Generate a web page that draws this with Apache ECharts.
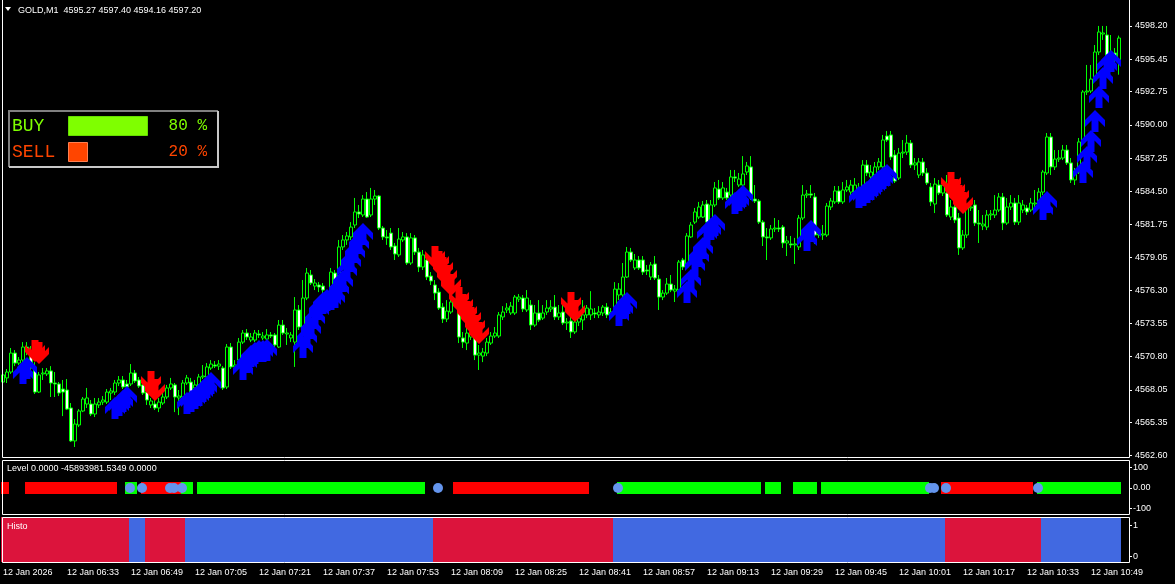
<!DOCTYPE html>
<html><head><meta charset="utf-8">
<script src="https://cdn.jsdelivr.net/npm/echarts@6/dist/echarts.min.js"></script>
<style>html,body{margin:0;padding:0;background:#000;}#c{width:1175px;height:584px;}</style>
</head><body><div id="c"></div>
<script>
const symbolName = 'GOLD,M1';
const startTime = '06:17';
const tickLabels = ['12 Jan 2026','12 Jan 06:33','12 Jan 06:49','12 Jan 07:05','12 Jan 07:21','12 Jan 07:37','12 Jan 07:53','12 Jan 08:09','12 Jan 08:25','12 Jan 08:41','12 Jan 08:57','12 Jan 09:13','12 Jan 09:29','12 Jan 09:45','12 Jan 10:01','12 Jan 10:17','12 Jan 10:33','12 Jan 10:49'];
const priceTicks = [4562.60,4565.35,4568.05,4570.80,4573.55,4576.30,4579.05,4581.75,4584.50,4587.25,4590.00,4592.75,4595.45,4598.20];
const levelTicks = [-100,0,100];
const histoTicks = [0,1];

const open = [4568.70,4569.04,4569.53,4571.10,4570.27,4570.52,4571.60,4570.93,4569.86,4567.87,
4569.37,4569.37,4569.62,4568.62,4568.54,4568.12,4568.04,4566.55,4563.82,4565.14,
4566.30,4566.88,4566.88,4566.05,4566.80,4567.04,4567.04,4567.79,4567.87,4568.62,
4568.87,4568.54,4568.54,4569.45,4568.87,4568.46,4567.87,4566.80,4566.88,4566.55,
4566.96,4567.46,4568.21,4568.46,4567.38,4567.46,4568.62,4568.70,4568.21,4568.29,
4569.12,4569.12,4569.86,4570.11,4570.02,4569.86,4568.29,4571.60,4569.95,4570.52,
4572.01,4572.76,4572.18,4572.18,4572.68,4572.35,4572.26,4572.60,4572.60,4571.60,
4573.42,4572.68,4572.35,4572.01,4574.67,4573.26,4575.66,4577.57,4576.65,4576.74,
4576.65,4575.49,4574.91,4577.73,4576.90,4579.89,4580.47,4580.72,4581.71,4582.79,
4582.54,4583.86,4582.54,4583.86,4584.11,4581.46,4580.72,4581.04,4579.97,4579.23,
4580.47,4580.72,4578.56,4580.64,4579.47,4578.23,4578.81,4577.48,4576.74,4576.15,
4574.91,4573.92,4574.50,4575.24,4574.83,4572.35,4571.93,4572.43,4572.43,4570.93,
4570.85,4571.10,4571.93,4572.51,4572.51,4574.09,4574.67,4574.42,4574.42,4575.57,
4575.66,4574.67,4575.08,4573.42,4574.42,4574.00,4574.50,4574.75,4574.91,4574.09,
4574.50,4573.59,4573.76,4572.85,4573.67,4573.84,4574.26,4574.26,4574.42,4574.26,
4574.42,4574.91,4574.34,4574.83,4575.91,4575.91,4577.40,4579.47,4578.15,4578.81,
4578.81,4577.98,4577.40,4578.48,4577.23,4575.74,4576.07,4576.82,4576.23,4576.32,
4578.81,4578.23,4580.72,4581.95,4582.37,4582.37,4583.45,4582.12,4583.37,4584.69,
4583.95,4584.44,4584.19,4585.69,4585.02,4585.02,4586.10,4586.52,4583.86,4583.70,
4581.95,4580.72,4580.64,4581.38,4581.46,4581.54,4580.22,4580.14,4580.06,4579.89,
4582.29,4584.19,4584.28,4584.03,4580.88,4580.88,4580.88,4583.20,4583.62,4584.53,
4583.62,4584.61,4584.44,4584.36,4584.78,4584.36,4586.68,4585.69,4585.85,4586.52,
4586.52,4589.08,4589.17,4587.51,4585.60,4587.67,4587.75,4588.50,4586.68,4585.85,
4586.93,4586.02,4584.86,4583.45,4585.02,4584.36,4584.36,4582.37,4583.20,4582.29,
4579.81,4580.88,4583.12,4583.37,4581.87,4581.63,4581.54,4582.54,4582.54,4582.95,
4584.03,4581.87,4583.20,4583.53,4581.95,4582.95,4583.12,4582.95,4583.45,4583.53,
4584.44,4586.02,4589.00,4586.52,4587.17,4587.26,4587.92,4586.85,4585.44,4586.10,
4588.59,4592.73,4592.81,4593.72,4596.04,4597.53,4597.45,4595.87,4595.96,4595.27];

const close = [4569.29,4569.53,4571.10,4570.27,4570.52,4571.60,4571.27,4569.86,4567.87,4569.29,
4569.45,4569.62,4568.62,4568.54,4567.79,4567.87,4566.46,4563.82,4565.22,4566.30,
4567.29,4567.38,4566.05,4566.88,4567.04,4567.21,4567.87,4567.96,4568.62,4568.87,
4568.29,4568.29,4569.45,4568.79,4568.37,4567.79,4567.21,4567.13,4566.55,4567.04,
4567.46,4568.21,4568.54,4567.46,4567.54,4568.62,4569.04,4567.87,4568.46,4569.12,
4569.20,4569.95,4570.19,4570.02,4570.19,4568.21,4571.60,4569.95,4570.11,4572.01,
4572.76,4572.43,4572.43,4572.76,4572.60,4572.51,4572.60,4572.51,4571.77,4573.42,
4572.76,4572.76,4572.60,4574.67,4573.26,4575.66,4577.73,4576.90,4576.90,4576.57,
4576.32,4575.82,4577.81,4576.74,4579.89,4580.47,4580.80,4581.54,4582.79,4582.62,
4583.86,4582.37,4583.86,4584.11,4581.46,4580.72,4580.64,4579.89,4579.31,4580.55,
4580.72,4578.56,4580.64,4579.47,4578.23,4579.23,4577.40,4577.07,4576.07,4574.83,
4573.92,4574.58,4575.33,4575.08,4572.43,4572.01,4572.76,4572.68,4570.93,4571.10,
4571.18,4572.01,4572.51,4572.76,4574.26,4574.50,4574.83,4574.99,4575.74,4575.74,
4574.75,4575.66,4573.42,4574.42,4573.84,4574.42,4574.83,4574.91,4574.09,4574.42,
4573.59,4573.67,4572.85,4573.67,4574.00,4574.26,4574.83,4574.75,4574.34,4574.50,
4574.91,4574.26,4574.50,4576.40,4576.40,4577.40,4579.47,4578.81,4578.81,4578.15,
4577.81,4577.90,4578.40,4577.32,4575.74,4576.07,4576.82,4576.32,4576.40,4578.64,
4578.23,4580.80,4581.71,4582.79,4583.20,4583.37,4581.95,4583.37,4584.78,4583.95,
4584.78,4583.95,4585.69,4585.60,4585.52,4585.94,4586.60,4583.95,4583.70,4581.95,
4580.72,4580.64,4581.38,4581.46,4581.38,4580.22,4580.39,4580.06,4580.14,4582.29,
4584.19,4584.28,4584.19,4580.88,4580.97,4580.97,4583.28,4583.70,4584.53,4583.62,
4584.61,4584.86,4585.02,4585.02,4584.36,4586.68,4586.02,4586.10,4586.52,4586.93,
4588.75,4588.75,4587.34,4585.35,4587.67,4587.75,4588.50,4586.68,4586.85,4586.93,
4586.02,4585.19,4583.62,4585.10,4584.36,4585.02,4582.54,4583.20,4582.12,4579.81,
4580.88,4583.12,4583.20,4581.87,4581.79,4581.79,4582.54,4582.62,4582.95,4584.03,
4581.87,4583.20,4583.53,4581.95,4583.53,4583.37,4582.79,4583.53,4583.53,4584.44,
4586.10,4589.00,4586.52,4587.17,4587.26,4587.92,4586.85,4585.44,4586.10,4588.59,
4592.73,4592.81,4593.80,4596.04,4597.70,4597.62,4595.71,4596.04,4595.38,4597.20];

const high = [4569.86,4569.78,4571.52,4571.35,4570.77,4572.01,4572.01,4571.68,4570.35,4569.53,
4569.86,4569.86,4570.02,4569.53,4568.70,4568.87,4568.95,4566.96,4565.63,4566.46,
4567.46,4568.21,4567.21,4567.38,4567.38,4567.54,4568.12,4568.21,4568.87,4569.20,
4569.20,4568.87,4570.19,4569.70,4569.12,4568.87,4568.21,4567.38,4567.21,4567.38,
4567.79,4568.46,4569.04,4568.62,4568.04,4568.87,4569.29,4569.04,4568.87,4569.37,
4570.11,4570.27,4570.52,4570.44,4570.52,4570.02,4571.85,4571.93,4570.52,4572.35,
4573.01,4573.09,4572.76,4573.01,4573.01,4572.84,4573.09,4572.84,4572.76,4573.84,
4573.84,4573.18,4572.84,4575.74,4575.08,4577.15,4578.15,4577.98,4577.23,4576.98,
4576.90,4576.32,4578.15,4577.98,4580.47,4580.88,4581.13,4581.95,4583.95,4583.37,
4584.19,4584.44,4584.78,4584.61,4584.19,4581.63,4581.29,4581.46,4580.22,4581.46,
4581.13,4581.04,4581.04,4580.88,4579.81,4579.64,4579.23,4577.81,4577.15,4576.48,
4575.24,4575.49,4575.82,4575.66,4575.33,4572.84,4573.18,4573.42,4573.01,4571.77,
4571.52,4572.35,4572.84,4573.26,4574.50,4574.99,4575.24,4575.33,4575.91,4575.99,
4575.91,4576.32,4575.49,4575.08,4575.49,4575.08,4575.49,4575.49,4575.91,4575.08,
4575.49,4574.00,4574.26,4574.26,4574.50,4575.49,4575.08,4576.23,4574.83,4574.99,
4575.08,4575.24,4574.83,4576.98,4576.90,4578.56,4579.89,4579.81,4579.31,4579.14,
4579.14,4578.40,4578.64,4579.14,4577.57,4576.32,4577.32,4577.57,4576.74,4578.81,
4578.98,4581.04,4581.95,4583.12,4583.62,4583.70,4583.78,4583.78,4585.27,4585.44,
4585.27,4584.78,4586.27,4586.27,4586.02,4587.42,4586.93,4587.42,4585.02,4583.86,
4582.12,4581.46,4581.71,4582.29,4582.12,4581.71,4580.80,4580.80,4580.64,4582.54,
4585.02,4584.61,4585.02,4584.36,4581.46,4581.71,4583.53,4583.95,4584.94,4584.94,
4585.27,4585.44,4585.44,4585.60,4585.19,4587.09,4587.09,4586.68,4586.93,4587.26,
4589.17,4589.50,4589.50,4587.92,4588.09,4588.75,4589.17,4588.75,4587.26,4587.26,
4587.26,4586.43,4585.19,4585.60,4585.44,4585.27,4585.85,4583.78,4583.53,4582.70,
4581.29,4583.37,4583.53,4583.78,4582.95,4582.54,4582.95,4582.95,4584.19,4584.36,
4584.36,4583.95,4584.19,4583.95,4584.19,4583.78,4583.37,4583.95,4584.61,4584.78,
4586.27,4589.33,4589.33,4587.92,4587.92,4588.34,4588.34,4587.26,4586.43,4588.92,
4592.89,4594.97,4594.97,4596.62,4598.20,4598.20,4598.20,4597.45,4596.37,4597.40];

const low = [4568.37,4568.62,4569.37,4570.02,4570.11,4570.35,4570.93,4569.53,4567.71,4567.79,
4568.87,4569.20,4567.46,4567.46,4567.54,4565.88,4566.38,4563.73,4563.32,4564.97,
4566.21,4566.55,4565.88,4565.80,4566.55,4566.80,4566.88,4567.21,4567.63,4568.37,
4568.12,4568.04,4568.37,4568.62,4568.21,4567.63,4566.80,4566.55,4566.38,4566.21,
4566.80,4567.29,4568.04,4566.21,4565.96,4567.29,4568.46,4567.71,4567.87,4568.12,
4568.95,4569.04,4569.70,4569.86,4569.70,4568.04,4568.12,4569.78,4569.70,4570.35,
4571.85,4572.18,4572.01,4572.01,4572.35,4572.18,4572.10,4572.35,4571.60,4571.52,
4572.60,4571.77,4572.01,4569.95,4573.01,4573.01,4575.49,4576.74,4576.32,4576.15,
4575.66,4575.08,4574.83,4575.49,4576.32,4579.64,4580.06,4580.47,4581.46,4582.29,
4582.37,4582.29,4582.37,4583.37,4581.29,4580.47,4580.06,4579.64,4578.81,4579.06,
4580.30,4578.40,4578.40,4579.23,4577.81,4577.98,4577.15,4576.74,4575.49,4574.67,
4573.59,4573.67,4574.34,4574.91,4571.93,4571.52,4571.35,4572.18,4570.52,4569.70,
4570.35,4570.85,4571.77,4572.35,4572.35,4573.84,4574.42,4574.26,4574.26,4575.33,
4574.50,4574.50,4573.01,4573.26,4573.67,4573.84,4574.26,4574.50,4573.84,4573.84,
4573.42,4573.01,4572.35,4572.68,4573.34,4573.01,4574.00,4573.84,4574.00,4574.00,
4574.17,4574.00,4574.00,4574.67,4575.49,4575.74,4577.32,4578.64,4577.98,4577.98,
4577.57,4577.57,4577.15,4577.15,4574.67,4575.49,4575.91,4576.15,4575.33,4576.15,
4577.98,4578.07,4580.64,4581.79,4582.21,4582.29,4581.79,4581.95,4583.20,4583.78,
4583.78,4583.78,4584.03,4585.27,4584.86,4584.86,4585.85,4583.78,4583.53,4581.79,
4579.97,4578.81,4580.47,4581.13,4581.13,4579.81,4579.14,4579.81,4578.48,4579.64,
4582.12,4583.95,4583.95,4580.14,4580.64,4580.47,4580.72,4582.95,4583.45,4583.45,
4583.45,4584.44,4584.19,4584.19,4584.11,4584.19,4585.77,4585.44,4585.60,4586.27,
4586.43,4588.59,4587.09,4585.19,4585.44,4587.26,4587.51,4586.43,4586.27,4585.60,
4585.77,4585.02,4583.28,4582.70,4584.19,4584.11,4582.37,4582.12,4581.87,4579.23,
4579.64,4580.64,4582.87,4581.63,4580.22,4581.29,4581.29,4582.12,4582.29,4582.79,
4581.29,4581.71,4582.95,4581.71,4581.71,4582.70,4582.54,4582.79,4583.12,4583.37,
4584.19,4585.85,4585.85,4586.27,4586.93,4587.09,4586.68,4585.19,4585.02,4585.94,
4588.42,4592.48,4592.64,4593.56,4595.79,4597.04,4595.54,4595.54,4594.97,4594.16];

// signal arrows: [candle index, price]
const buyArrows = [[4,4569.45],[5,4569.86],
[27,4566.55],[28,4566.80],[29,4567.13],[30,4567.46],
[45,4566.96],[46,4567.13],[47,4567.38],[48,4567.63],[49,4567.96],[50,4568.29],[51,4568.62],
[59,4569.78],[60,4570.35],[61,4570.85],[62,4571.10],[63,4571.27],[64,4571.27],[65,4571.35],
[74,4571.60],[75,4572.43],[76,4573.18],[77,4574.00],[78,4574.75],[79,4575.24],[80,4575.49],[81,4575.57],[82,4575.74],[83,4576.48],[84,4577.07],[85,4577.98],[86,4578.73],[87,4579.47],[88,4580.22],[89,4580.97],
[153,4574.26],[154,4574.83],[155,4575.24],
[170,4576.15],[171,4577.15],[172,4578.40],[173,4579.14],[174,4579.81],[175,4581.04],[176,4581.38],[177,4581.71],
[182,4583.53],[183,4583.78],[184,4584.11],
[200,4580.47],[201,4581.21],
[213,4584.03],[214,4584.19],[215,4584.44],[216,4584.69],[217,4585.02],[218,4585.35],[219,4585.60],[220,4585.85],
[259,4583.03],[260,4583.62],
[269,4586.10],[270,4587.34],[271,4588.67],[272,4590.32],[273,4592.31],[274,4593.89],[275,4594.97],[276,4595.30]];
const sellArrows = [[7,4571.27],[8,4571.10],
[36,4568.70],[37,4568.04],
[107,4579.06],[108,4578.64],[109,4578.15],[110,4577.48],[111,4576.74],
[113,4575.66],[114,4575.08],[115,4574.50],[116,4574.00],[117,4573.34],[118,4572.76],
[141,4575.24],[142,4574.58],
[236,4585.19],[237,4584.61],[238,4584.11],[239,4583.53]];

// level indicator: runs of [state, candle count]; R = red, G = green, - = none
const levelRuns = [['R',2],['-',4],['R',23],['-',2],['G',3],['-',1],['R',10],['G',3],['-',1],['G',57],['-',7],['R',34],['-',7],['G',36],['-',1],['G',4],['-',3],['G',6],['-',1],['G',27],['-',3],['R',23],['-',1],['G',21]];
const levelDots = [31,34,41,42,44,108,153,231,232,235,258];
// histogram: runs of [state, candle count]; R = crimson, B = blue
const histoRuns = [['R',32],['B',4],['R',10],['B',62],['R',45],['B',83],['R',24],['B',20]];

const buyPct = 80, sellPct = 20;
const levelText = 'Level 0.0000 -45893981.5349 0.0000';
const histoText = 'Histo';

const FONT = 'Liberation Sans';
const MONO = 'Liberation Mono';
const N = open.length;
const PAD = 2;
const cats = [];
{ let [hh, mm] = startTime.split(':').map(Number);
  for (let k = 0; k < N + PAD; k++) { cats.push(String(hh).padStart(2,'0') + ':' + String(mm).padStart(2,'0')); mm++; if (mm === 60) { mm = 0; hh++; } } }
const candles = open.map((o, k) => [o, close[k], low[k], high[k]]);
const expand = runs => { const a = []; runs.forEach(([s, n]) => { for (let k = 0; k < n; k++) a.push(s); }); return a; };
const levelData = expand(levelRuns).map((s, k) => [k, 0, s]).filter(d => d[2] !== '-');
const histoData = expand(histoRuns).map((s, k) => [k, 1, s]);
const lastClose = close[N - 1];
const titleText = symbolName + '  ' + open[N-1].toFixed(2) + ' ' + high[N-1].toFixed(2) + ' ' + low[N-1].toFixed(2) + ' ' + close[N-1].toFixed(2);

const upArrow = 'path://M10,0 L20,10 L20,17 L13.5,10.5 L13.5,22 L6.5,22 L6.5,10.5 L0,17 L0,10 Z';
const downArrow = 'path://M10,22 L20,12 L20,5 L13.5,11.5 L13.5,0 L6.5,0 L6.5,11.5 L0,5 L0,12 Z';

const chart = echarts.init(document.getElementById('c'), null, {renderer: 'canvas'});
const hiddenCat = gi => ({gridIndex: gi, type: 'category', data: cats, boundaryGap: true, show: false});
const rightAxisLabel = (margin) => ({color: '#fff', fontFamily: FONT, fontSize: 9, margin: margin});

chart.setOption({
  backgroundColor: '#000',
  animation: false,
  grid: [
    {left: 1, top: 0, width: 1128, height: 457},
    {left: 1, top: 460, width: 1128, height: 54},
    {left: 1, top: 517, width: 1128, height: 45},
    {left: 68, top: 113, width: 100, height: 52}
  ],
  xAxis: [
    hiddenCat(0), hiddenCat(1),
    {gridIndex: 2, type: 'category', data: cats, boundaryGap: true,
     axisLine: {show: false},
     axisTick: {show: true, interval: 15, alignWithLabel: true, length: 4, lineStyle: {color: '#fff'}},
     axisLabel: {interval: 15, align: 'left', margin: 6, color: '#fff', fontFamily: FONT, fontSize: 9,
                 formatter: (v, idx) => tickLabels[idx / 16] || ''},
     splitLine: {show: false}},
    {gridIndex: 3, type: 'value', min: 0, max: 100, show: false}
  ],
  yAxis: [
    {gridIndex: 0, type: 'value', position: 'right', min: 4562.49, max: 4600.35,
     axisLine: {show: false}, splitLine: {show: false},
     axisTick: {show: true, length: 3, customValues: priceTicks, lineStyle: {color: '#fff'}},
     axisLabel: Object.assign(rightAxisLabel(6), {customValues: priceTicks, formatter: v => v.toFixed(2)})},
    {gridIndex: 1, type: 'value', position: 'right', min: -128, max: 138,
     axisLine: {show: false}, splitLine: {show: false},
     axisTick: {show: true, length: 3, customValues: levelTicks, lineStyle: {color: '#fff'}},
     axisLabel: Object.assign(rightAxisLabel(4), {customValues: levelTicks, formatter: v => v === 0 ? '0.00' : String(v)})},
    {gridIndex: 2, type: 'value', position: 'right', min: -0.19, max: 1.26,
     axisLine: {show: false}, splitLine: {show: false},
     axisTick: {show: true, length: 3, customValues: histoTicks, lineStyle: {color: '#fff'}},
     axisLabel: Object.assign(rightAxisLabel(4), {customValues: histoTicks, formatter: v => String(v)})},
    {gridIndex: 3, type: 'category', data: ['BUY', 'SELL'], inverse: true, z: 20,
     axisLine: {show: false}, axisTick: {show: false}, splitLine: {show: false},
     axisLabel: {margin: 56, align: 'left', fontFamily: MONO, fontSize: 18,
                 formatter: v => v === 'BUY' ? '{b|' + v + '}' : '{s|' + v + '}',
                 rich: {b: {color: '#7FFF00', fontFamily: MONO, fontSize: 18}, s: {color: '#FF4500', fontFamily: MONO, fontSize: 18}}}}
  ],
  graphic: [
    {type: 'polygon', z: 50, shape: {points: [[5,7],[11,7],[8,11]]}, style: {fill: '#fff'}},
    {type: 'text', z: 50, style: {x: 18, y: 10.5, text: titleText, fill: '#fff', font: '9px "Liberation Sans"', verticalAlign: 'middle'}},
    {type: 'rect', z: 50, shape: {x: 2.5, y: -2.5, width: 1127, height: 460}, style: {fill: null, stroke: '#fff', lineWidth: 1}},
    {type: 'rect', z: 50, shape: {x: 2.5, y: 460.5, width: 1127, height: 54}, style: {fill: null, stroke: '#fff', lineWidth: 1}},
    {type: 'rect', z: 50, shape: {x: 2.5, y: 517.5, width: 1127, height: 45}, style: {fill: null, stroke: '#fff', lineWidth: 1}},
    {type: 'text', z: 50, style: {x: 7, y: 469, text: levelText, fill: '#fff', font: '9px "Liberation Sans"', verticalAlign: 'middle'}},
    {type: 'text', z: 50, style: {x: 7, y: 527, text: histoText, fill: '#fff', font: '9px "Liberation Sans"', verticalAlign: 'middle'}},
    {type: 'rect', z: 1, shape: {x: 8, y: 110, width: 211, height: 58}, style: {fill: '#000'}},
    {type: 'polyline', z: 1, shape: {points: [[9,167],[9,111],[218,111]]}, style: {stroke: '#808080', lineWidth: 2, fill: null}},
    {type: 'polyline', z: 1, shape: {points: [[9,167],[218,167],[218,111]]}, style: {stroke: '#C8C8C8', lineWidth: 2, fill: null}}
  ],
  series: [
    {type: 'candlestick', xAxisIndex: 0, yAxisIndex: 0, data: candles, barWidth: 3,
     itemStyle: {color: '#000000', color0: '#FFFFFF', borderColor: '#00FF00', borderColor0: '#00FF00', borderWidth: 1},
     markLine: {silent: true, symbol: ['none', 'none'], data: [{yAxis: lastClose}], lineStyle: {opacity: 0},
       label: {show: true, position: 'end', distance: 2, formatter: lastClose.toFixed(2), backgroundColor: '#fff',
               color: '#000', padding: [1, 2, 1, 2], fontFamily: FONT, fontSize: 9}}},
    {type: 'scatter', xAxisIndex: 0, yAxisIndex: 0, data: buyArrows, symbol: upArrow, symbolSize: [20, 22],
     symbolOffset: [4, 0], itemStyle: {color: '#0000FF', opacity: 1}, z: 3},
    {type: 'scatter', xAxisIndex: 0, yAxisIndex: 0, data: sellArrows, symbol: downArrow, symbolSize: [20, 22],
     symbolOffset: [4, 0], itemStyle: {color: '#FF0000', opacity: 1}, z: 3},
    {type: 'custom', xAxisIndex: 1, yAxisIndex: 1, data: levelData, encode: {x: 0, y: 1},
     renderItem: (params, api) => {
       const d = levelData[params.dataIndex];
       const pt = api.coord([d[0], 0]);
       const w = api.size([1, 0])[0];
       return {type: 'rect', shape: {x: pt[0] - w / 2, y: pt[1] - 6, width: w, height: 12},
               style: {fill: d[2] === 'R' ? '#FF0000' : '#00FF00'}};
     }},
    {type: 'scatter', xAxisIndex: 1, yAxisIndex: 1, data: levelDots.map(k => [k, 0]), symbol: 'circle',
     symbolSize: 10, symbolOffset: [3, 0], itemStyle: {color: '#6495ED', opacity: 1}, z: 4},
    {type: 'custom', xAxisIndex: 2, yAxisIndex: 2, data: histoData, encode: {x: 0, y: 1},
     renderItem: (params, api) => {
       const d = histoData[params.dataIndex];
       const pt = api.coord([d[0], 0]);
       const w = api.size([1, 0])[0];
       const cs = params.coordSys;
       return {type: 'rect', shape: {x: pt[0] - w / 2, y: cs.y, width: w, height: cs.height},
               style: {fill: d[2] === 'R' ? '#DC143C' : '#4169E1'}};
     }},
    {type: 'bar', xAxisIndex: 3, yAxisIndex: 3, barWidth: 20, z: 5,
     data: [
       {value: buyPct, itemStyle: {color: '#7FFF00', borderColor: '#66DD00', borderWidth: 1},
        label: {color: '#7FFF00'}},
       {value: sellPct, itemStyle: {color: '#FF4500', borderColor: '#FF7F50', borderWidth: 1},
        label: {color: '#FF4500'}}
     ],
     label: {show: true, position: [139, 10], align: 'right', verticalAlign: 'middle',
             formatter: '{c} %', fontFamily: MONO, fontSize: 16}}
  ]
});
</script>
</body></html>
